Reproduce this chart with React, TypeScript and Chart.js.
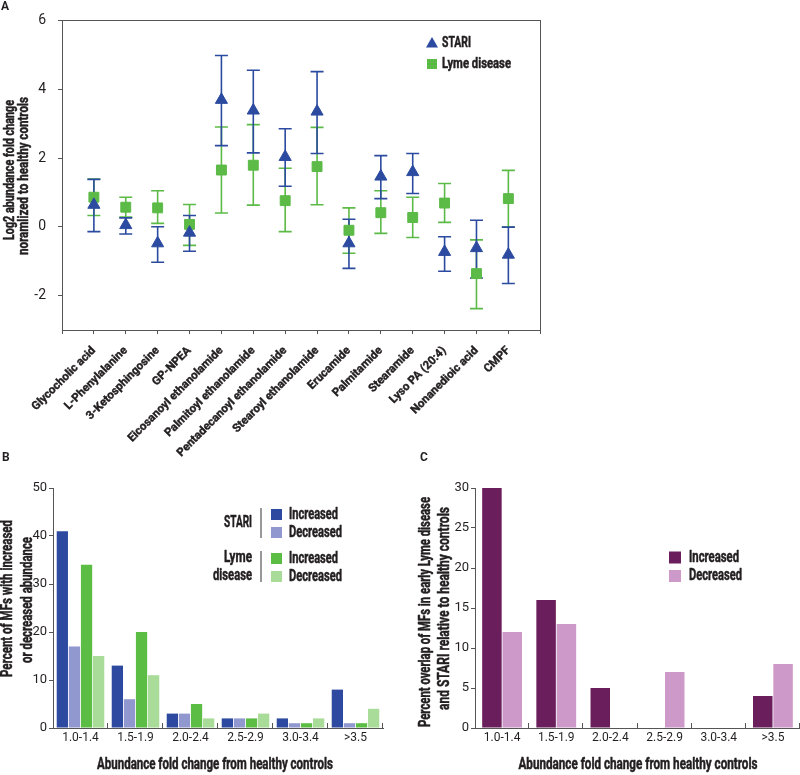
import React, { useEffect, useRef } from 'react';
import { Chart, registerables } from 'chart.js';

Chart.register(...registerables);

// ---------- Panel A data ----------
const compounds = [
  'Glycocholic acid', 'L-Phenylalanine', '3-Ketosphingosine', 'GP-NPEA',
  'Eicosanoyl ethanolamide', 'Palmitoyl ethanolamide', 'Pentadecanoyl ethanolamide',
  'Stearoyl ethanolamide', 'Erucamide', 'Palmitamide', 'Stearamide',
  'Lyso PA (20:4)', 'Nonanedioic acid', 'CMPF',
];
const stariMean = [0.64, 0.05, -0.48, -0.17, 3.69, 3.38, 2.03, 3.35, -0.48, 1.46, 1.59, -0.73, -0.62, -0.81];
const stariLow = [-0.14, -0.21, -1.03, -0.71, 2.36, 2.15, 1.18, 2.13, -1.21, 0.82, 0.97, -1.29, -1.49, -1.65];
const stariHigh = [1.38, 0.26, 0.0, 0.33, 4.98, 4.55, 2.85, 4.51, 0.22, 2.07, 2.13, -0.29, 0.19, -0.01];
const lymeMean = [0.86, 0.57, 0.55, 0.07, 1.65, 1.79, 0.76, 1.75, -0.1, 0.41, 0.27, 0.69, -1.36, 0.82];
const lymeLow = [0.33, 0.28, 0.1, -0.54, 0.4, 0.63, -0.14, 0.64, -0.77, -0.19, -0.31, 0.13, -2.38, -0.01];
const lymeHigh = [1.39, 0.86, 1.05, 0.65, 2.9, 2.97, 1.7, 2.89, 0.55, 1.05, 0.86, 1.26, -0.38, 1.64];
const panelATicks = [-2, 0, 2, 4, 6];

// ---------- Panel B / C data ----------
const foldBins = ['1.0-1.4', '1.5-1.9', '2.0-2.4', '2.5-2.9', '3.0-3.4', '>3.5'];
const stariIncreased = [41, 13, 3, 2, 2, 8];
const stariDecreased = [17, 6, 3, 2, 1, 1];
const lymeIncreased = [34, 20, 5, 2, 1, 1];
const lymeDecreased = [15, 11, 2, 3, 2, 4];
const overlapIncreased = [30, 16, 5, 0, 0, 4];
const overlapDecreased = [12, 13, 0, 7, 0, 8];

const FONT = 'Roboto, "Liberation Sans", sans-serif';
const TXT = '#231f20';
const AX = '#555555';
const BLUE = '#2c4ba0';
const GREEN = '#5cba47';

// draws bold text horizontally compressed to a given width (condensed look)
function drawText(
  ctx: CanvasRenderingContext2D, text: string, x: number, y: number,
  size: number, width: number | null, align: CanvasTextAlign = 'left', rotate = 0,
) {
  ctx.save();
  ctx.font = `bold ${size}px ${FONT}`;
  const w = ctx.measureText(text).width;
  const sx = width ? width / w : 1;
  ctx.translate(x, y);
  if (rotate) ctx.rotate(rotate);
  ctx.scale(sx, 1);
  ctx.textAlign = align;
  ctx.textBaseline = 'middle';
  ctx.fillStyle = TXT;
  ctx.strokeStyle = TXT;
  ctx.lineWidth = 0.5;
  ctx.lineJoin = 'round';
  ctx.fillText(text, 0, 0);
  ctx.strokeText(text, 0, 0);
  ctx.restore();
}

const errorBarPlugin = {
  id: 'errorBars',
  beforeDatasetsDraw(chart: any) {
    const { ctx } = chart;
    const x = chart.scales.x;
    const y = chart.scales.y;
    const order = chart.data.datasets.map((_: any, i: number) => i).reverse();
    order.forEach((di: number) => {
      const ds = chart.data.datasets[di];
      if (!ds.errLow) return;
      ctx.save();
      ctx.strokeStyle = ds.borderColor;
      ctx.lineWidth = 1.6;
      ds.errLow.forEach((lo: number, i: number) => {
        const hi = ds.errHigh[i];
        const px = x.getPixelForValue(i + 1);
        const pl = y.getPixelForValue(lo);
        const ph = y.getPixelForValue(hi);
        ctx.beginPath();
        ctx.moveTo(px, pl); ctx.lineTo(px, ph);
        ctx.moveTo(px - 6.5, pl); ctx.lineTo(px + 6.5, pl);
        ctx.moveTo(px - 6.5, ph); ctx.lineTo(px + 6.5, ph);
        ctx.stroke();
      });
      ctx.restore();
    });
  },
};

const frameLegendA = {
  id: 'frameLegendA',
  afterDraw(chart: any) {
    const { ctx, chartArea: { left, right, top, bottom } } = chart;
    ctx.save();
    ctx.strokeStyle = AX;
    ctx.lineWidth = 1;
    ctx.strokeRect(Math.round(left) + 0.5, Math.round(top) + 0.5, Math.round(right - left), Math.round(bottom - top));
    // legend
    const lx = 432;
    ctx.fillStyle = BLUE;
    ctx.beginPath();
    ctx.moveTo(lx, 37); ctx.lineTo(lx + 6, 47.5); ctx.lineTo(lx - 6, 47.5); ctx.closePath();
    ctx.fill();
    ctx.fillStyle = GREEN;
    ctx.fillRect(lx - 5, 59, 10, 10);
    ctx.restore();
    drawText(ctx, 'STARI', 442, 43, 15, 29);
    drawText(ctx, 'Lyme disease', 442, 64.5, 15, 69);
    // y axis title
    drawText(ctx, 'Log2 abundance fold change', 10, 170, 14, 140, 'center', -Math.PI / 2);
    drawText(ctx, 'noramlized to healthy controls', 24, 176, 14, 158, 'center', -Math.PI / 2);
  },
};

const innerTicks = {
  id: 'innerTicks',
  afterDatasetsDraw(chart: any) {
    const { ctx, chartArea: { left, right, bottom } } = chart;
    const n = chart.data.labels.length;
    ctx.save();
    ctx.strokeStyle = AX;
    ctx.lineWidth = 1;
    for (let i = 1; i <= n; i++) {
      const x = Math.round(left + ((right - left) * i) / n) - 0.5;
      ctx.beginPath();
      ctx.moveTo(x, bottom);
      ctx.lineTo(x, bottom - 5);
      ctx.stroke();
    }
    ctx.restore();
  },
};

const legendB = {
  id: 'legendB',
  afterDraw(chart: any) {
    const { ctx } = chart;
    const oy = 475;
    drawText(ctx, 'STARI', 252, 523 - oy, 16, 28, 'right');
    drawText(ctx, 'Lyme', 252, 558 - oy, 16, 28, 'right');
    drawText(ctx, 'disease', 252, 575.5 - oy, 16, 39, 'right');
    ctx.save();
    ctx.strokeStyle = '#777';
    ctx.lineWidth = 1.5;
    ctx.beginPath();
    ctx.moveTo(261, 508 - oy); ctx.lineTo(261, 538 - oy);
    ctx.moveTo(261, 551 - oy); ctx.lineTo(261, 582 - oy);
    ctx.stroke();
    ctx.restore();
    const items = [
      ['#2e4aa0', 'Increased', 514.5, 49],
      ['#9198d0', 'Decreased', 532.5, 53],
      ['#5cbd45', 'Increased', 558.5, 49],
      ['#a9dc99', 'Decreased', 576.5, 53],
    ] as [string, string, number, number][];
    items.forEach(([c, t, cy, w]) => {
      ctx.save();
      ctx.fillStyle = c;
      ctx.fillRect(271, cy - oy - 5.5, 11, 11);
      ctx.restore();
      drawText(ctx, t, 289, cy - oy, 16, w);
    });
    drawText(ctx, 'Percent of MFs with increased', 8, 598.5 - oy, 16, 157, 'center', -Math.PI / 2);
    drawText(ctx, 'or decreased abundance', 28, 600 - oy, 16, 126, 'center', -Math.PI / 2);
    drawText(ctx, 'Abundance fold change from healthy controls', 215, 765 - oy, 16, 236, 'center');
  },
};

const legendC = {
  id: 'legendC',
  afterDraw(chart: any) {
    const { ctx } = chart;
    const ox = 400, oy = 475;
    const items = [
      ['#6b1e5c', 'Increased', 557.5, 50],
      ['#cc99c9', 'Decreased', 576, 53],
    ] as [string, string, number, number][];
    items.forEach(([c, t, cy, w]) => {
      ctx.save();
      ctx.fillStyle = c;
      ctx.fillRect(669 - ox, cy - oy - 6, 12, 12);
      ctx.restore();
      drawText(ctx, t, 689 - ox, cy - oy, 16, w);
    });
    drawText(ctx, 'Percent overlap of MFs in early Lyme disease', 426 - ox, 612 - oy, 16, 230, 'center', -Math.PI / 2);
    drawText(ctx, 'and STARI relative to healthy controls', 445 - ox, 608.5 - oy, 16, 203, 'center', -Math.PI / 2);
    drawText(ctx, 'Abundance fold change from healthy controls', 638 - ox, 765 - oy, 16, 239, 'center');
  },
};

function PanelA() {
  const ref = useRef<HTMLCanvasElement>(null);
  useEffect(() => {
    const chart = new Chart(ref.current as HTMLCanvasElement, {
      type: 'line',
      data: {
        labels: ['', ...compounds, ''],
        datasets: [
          {
            label: 'STARI',
            data: [null, ...stariMean, null],
            showLine: false,
            pointStyle: 'triangle',
            pointRadius: 7,
            pointBorderWidth: 1,
            backgroundColor: BLUE,
            borderColor: BLUE,
            errLow: stariLow,
            errHigh: stariHigh,
          } as any,
          {
            label: 'Lyme disease',
            data: [null, ...lymeMean, null],
            showLine: false,
            pointStyle: 'rect',
            pointRadius: 7,
            pointBorderWidth: 1,
            backgroundColor: GREEN,
            borderColor: GREEN,
            errLow: lymeLow,
            errHigh: lymeHigh,
          } as any,
        ],
      },
      options: {
        responsive: false,
        animation: false,
        layout: { padding: { top: 15, right: 12, left: 0, bottom: 0 } },
        plugins: { legend: { display: false }, tooltip: { enabled: false } },
        scales: {
          x: {
            type: 'category',
            offset: false,
            grid: { drawOnChartArea: false, drawTicks: true, tickLength: 4, color: AX },
            border: { display: false },
            ticks: {
              autoSkip: false,
              minRotation: 45,
              maxRotation: 45,
              padding: 10,
              color: TXT,
              textStrokeColor: TXT,
              textStrokeWidth: 0.4,
              font: { family: FONT, size: 11.5, weight: 'bold' },
            },
            afterFit: (s: any) => { s.height = 140; },
          },
          y: {
            min: -3,
            max: 6,
            afterBuildTicks: (s: any) => { s.ticks = panelATicks.map((v) => ({ value: v })); },
            grid: { drawOnChartArea: false, drawTicks: true, tickLength: 4, color: AX },
            border: { display: false },
            ticks: { padding: 12, color: TXT, font: { family: FONT, size: 14 } },
            afterFit: (s: any) => { s.width = 62; },
          },
        },
      } as any,
      plugins: [errorBarPlugin, frameLegendA],
    });
    return () => chart.destroy();
  }, []);
  return <canvas ref={ref} width={560} height={470} style={{ display: 'block' }} />;
}

function barScales(yMax: number, step: number, yWidth: number) {
  return {
    x: {
      grid: { display: false, drawTicks: false },
      border: { display: true, color: AX, width: 1 },
      ticks: { padding: 3, color: TXT, font: { family: FONT, size: 12 } },
      afterFit: (s: any) => { s.height = 47; },
    },
    y: {
      min: 0,
      max: yMax,
      ticks: { stepSize: step, padding: 2, color: TXT, font: { family: FONT, size: 13 } },
      grid: { drawOnChartArea: false, drawTicks: true, tickLength: 4, color: AX },
      border: { display: true, color: AX, width: 1 },
      afterFit: (s: any) => { s.width = yWidth; },
    },
  };
}

function PanelB() {
  const ref = useRef<HTMLCanvasElement>(null);
  useEffect(() => {
    const common = { categoryPercentage: 0.88, barPercentage: 0.93 };
    const chart = new Chart(ref.current as HTMLCanvasElement, {
      type: 'bar',
      data: {
        labels: foldBins,
        datasets: [
          { label: 'STARI Increased', data: stariIncreased, backgroundColor: '#2e4aa0', ...common },
          { label: 'STARI Decreased', data: stariDecreased, backgroundColor: '#9198d0', ...common },
          { label: 'Lyme disease Increased', data: lymeIncreased, backgroundColor: '#5cbd45', ...common },
          { label: 'Lyme disease Decreased', data: lymeDecreased, backgroundColor: '#a9dc99', ...common },
        ],
      },
      options: {
        responsive: false,
        animation: false,
        layout: { padding: { top: 13, right: 17, left: 0, bottom: 0 } },
        plugins: { legend: { display: false }, tooltip: { enabled: false } },
        scales: barScales(50, 10, 53),
      } as any,
      plugins: [innerTicks, legendB],
    });
    return () => chart.destroy();
  }, []);
  return <canvas ref={ref} width={400} height={300} style={{ display: 'block' }} />;
}

function PanelC() {
  const ref = useRef<HTMLCanvasElement>(null);
  useEffect(() => {
    const common = { categoryPercentage: 0.75, barPercentage: 0.96 };
    const chart = new Chart(ref.current as HTMLCanvasElement, {
      type: 'bar',
      data: {
        labels: foldBins,
        datasets: [
          { label: 'Increased', data: overlapIncreased, backgroundColor: '#6b1e5c', ...common },
          { label: 'Decreased', data: overlapDecreased, backgroundColor: '#cc99c9', ...common },
        ],
      },
      options: {
        responsive: false,
        animation: false,
        layout: { padding: { top: 13, right: 0, left: 0, bottom: 0 } },
        plugins: { legend: { display: false }, tooltip: { enabled: false } },
        scales: barScales(30, 5, 75),
      } as any,
      plugins: [innerTicks, legendC],
    });
    return () => chart.destroy();
  }, []);
  return <canvas ref={ref} width={400} height={300} style={{ display: 'block' }} />;
}

const letterStyle: React.CSSProperties = {
  position: 'absolute',
  fontFamily: FONT,
  fontWeight: 'bold',
  fontSize: 12,
  lineHeight: '12px',
  color: TXT,
};

export default function App() {
  return (
    <div style={{ position: 'absolute', left: 0, top: 0, width: 800, height: 775, overflow: 'hidden', background: '#fff' }}>
      <div style={{ position: 'absolute', left: 0, top: 0 }}><PanelA /></div>
      <div style={{ position: 'absolute', left: 0, top: 475 }}><PanelB /></div>
      <div style={{ position: 'absolute', left: 400, top: 475 }}><PanelC /></div>
      <div style={{ ...letterStyle, left: 1, top: 0 }}>A</div>
      <div style={{ ...letterStyle, left: 2, top: 451 }}>B</div>
      <div style={{ ...letterStyle, left: 420, top: 451 }}>C</div>
    </div>
  );
}
